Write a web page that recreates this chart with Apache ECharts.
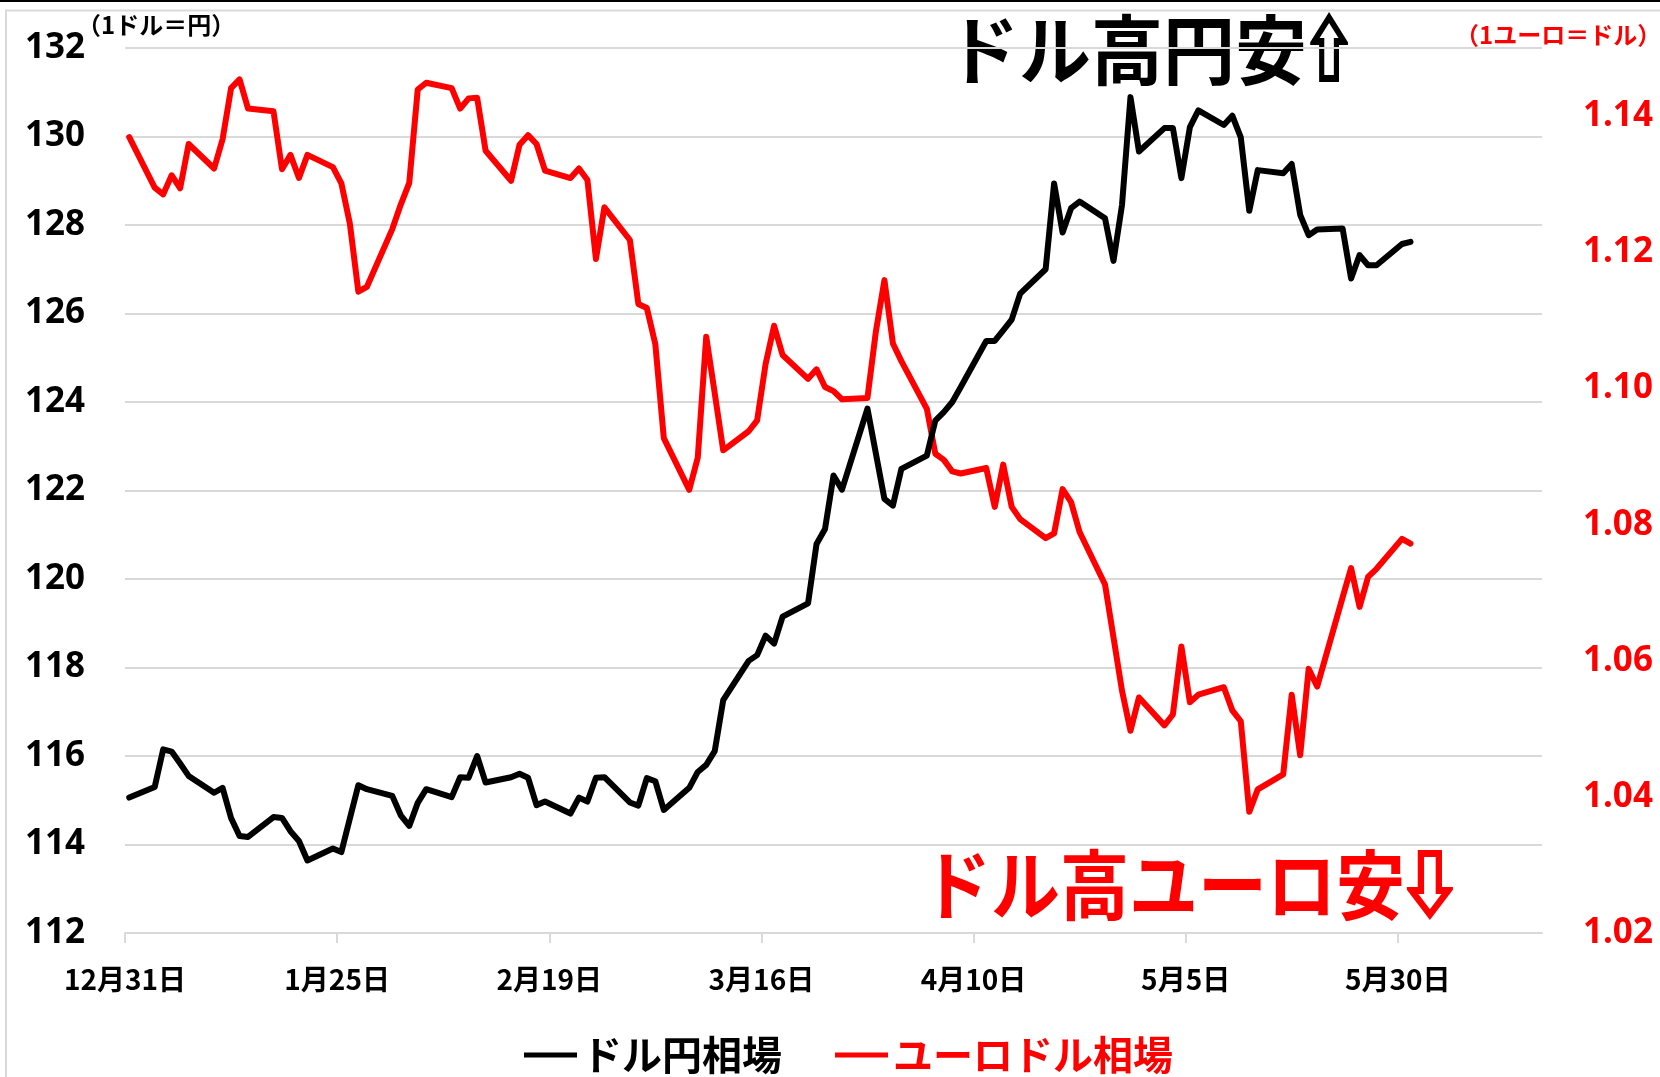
<!DOCTYPE html>
<html>
<head>
<meta charset="utf-8">
<title>ドル円・ユーロドル相場</title>
<script src="https://cdn.jsdelivr.net/npm/echarts@6/dist/echarts.min.js"></script>
<style>
  html, body { margin: 0; padding: 0; background: #fff; }
  #chart_box { width: 1660px; height: 1077px; }
</style>
</head>
<body>
<div id="chart_box"></div>
<script>
// 日付（12/31は2021年、それ以外は2022年）
var dates = [
  "12/31",
  "1/3", "1/4", "1/5", "1/6", "1/7", "1/10", "1/11", "1/12", "1/13", "1/14",
  "1/17", "1/18", "1/19", "1/20", "1/21", "1/24", "1/25", "1/26", "1/27", "1/28",
  "1/31", "2/1", "2/2", "2/3", "2/4", "2/7", "2/8", "2/9", "2/10", "2/11",
  "2/14", "2/15", "2/16", "2/17", "2/18", "2/21", "2/22", "2/23", "2/24", "2/25",
  "2/28", "3/1", "3/2", "3/3", "3/4", "3/7", "3/8", "3/9", "3/10", "3/11",
  "3/14", "3/15", "3/16", "3/17", "3/18", "3/21", "3/22", "3/23", "3/24", "3/25",
  "3/28", "3/29", "3/30", "3/31", "4/1", "4/4", "4/5", "4/6", "4/7", "4/8",
  "4/11", "4/12", "4/13", "4/14", "4/15", "4/18", "4/19", "4/20", "4/21", "4/22",
  "4/25", "4/26", "4/27", "4/28", "4/29", "5/2", "5/3", "5/4", "5/5", "5/6",
  "5/9", "5/10", "5/11", "5/12", "5/13", "5/16", "5/17", "5/18", "5/19", "5/20",
  "5/23", "5/24", "5/25", "5/26", "5/27", "5/30", "5/31"
];

// ドル円相場（1ドル＝円）
var usdJpy = [
  115.06,
  115.30, 116.15, 116.10, 115.83, 115.55, 115.17, 115.28, 114.60, 114.19, 114.17,
  114.62, 114.60, 114.30, 114.08, 113.64, 113.91, 113.83, 114.59, 115.34, 115.25,
  115.10, 114.66, 114.42, 114.94, 115.25, 115.07, 115.52, 115.51, 116.00, 115.40,
  115.52, 115.60, 115.51, 114.89, 114.97, 114.70, 115.06, 114.97, 115.51, 115.52,
  114.95, 114.88, 115.50, 115.43, 114.78, 115.28, 115.64, 115.80, 116.11, 117.26,
  118.15, 118.28, 118.72, 118.54, 119.15, 119.45, 120.79, 121.13, 122.34, 122.02,
  123.85, 122.83, 121.81, 121.66, 122.49, 122.79, 123.58, 123.77, 124.00, 124.34,
  125.38, 125.38, 125.62, 125.86, 126.45, 127.00, 128.94, 127.83, 128.38, 128.53,
  128.15, 127.19, 128.45, 130.89, 129.66, 130.19, 130.19, 129.06, 130.21, 130.59,
  130.26, 130.47, 129.98, 128.32, 129.24, 129.17, 129.38, 128.23, 127.77, 127.90,
  127.92, 126.79, 127.32, 127.09, 127.09, 127.57, 127.62
];

// ユーロドル相場（1ユーロ＝ドル）
var eurUsd = [
  1.1369,
  1.1295, 1.1285, 1.1313, 1.1294, 1.1359, 1.1323, 1.1366, 1.1441, 1.1454, 1.1411,
  1.1407, 1.1322, 1.1343, 1.1309, 1.1343, 1.1325, 1.1301, 1.1242, 1.1142, 1.1149,
  1.1234, 1.1270, 1.1302, 1.1439, 1.1449, 1.1441, 1.1411, 1.1426, 1.1427, 1.1349,
  1.1305, 1.1358, 1.1372, 1.1359, 1.1320, 1.1309, 1.1323, 1.1306, 1.1190, 1.1266,
  1.1218, 1.1124, 1.1118, 1.1065, 1.0927, 1.0851, 1.0898, 1.1076, 1.0993, 1.0909,
  1.0937, 1.0953, 1.1036, 1.1092, 1.1049, 1.1014, 1.1028, 1.1002, 1.0996, 1.0984,
  1.0986, 1.1084, 1.1159, 1.1066, 1.1040, 1.0970, 1.0904, 1.0895, 1.0878, 1.0875,
  1.0883, 1.0826, 1.0888, 1.0826, 1.0808, 1.0780, 1.0787, 1.0852, 1.0833, 1.0789,
  1.0712, 1.0634, 1.0556, 1.0497, 1.0546, 1.0505, 1.0521, 1.0621, 1.0539, 1.0550,
  1.0561, 1.0527, 1.0511, 1.0378, 1.0411, 1.0433, 1.0550, 1.0461, 1.0588, 1.0562,
  1.0693, 1.0736, 1.0679, 1.0723, 1.0735, 1.0779, 1.0772
];

// 目盛り
var xTickDays = [0, 25, 50, 75, 100, 125, 150];
var xTickLabels = ["12月31日", "1月25日", "2月19日", "3月16日", "4月10日", "5月5日", "5月30日"];
var rightTicks = [1.02, 1.04, 1.06, 1.08, 1.10, 1.12, 1.14];

var baseDay = Date.UTC(2021, 11, 31);
// 12/31からの経過日数（点は日の中央に置く）
function toDay(s) {
  var p = s.split("/");
  var m = +p[0], d = +p[1];
  var y = m === 12 ? 2021 : 2022;
  return (Date.UTC(y, m - 1, d) - baseDay) / 86400000 + 0.5;
}

var jpyData = dates.map(function (s, i) { return [toDay(s), usdJpy[i]]; });
var eurData = dates.map(function (s, i) { return [toDay(s), eurUsd[i]]; });

var jpFont = '"Noto Sans CJK JP", "Noto Sans", sans-serif';
var numFont = '"Noto Sans", "Liberation Sans", sans-serif';

var mycharts = echarts.init(document.getElementById("chart_box"));

var option = {
  animation: false,
  backgroundColor: "#fff",
  grid: { left: 125, right: 118, top: 48, bottom: 144 },
  legend: {
    left: 519,
    top: 1030,
    icon: "rect",
    itemWidth: 53,
    itemHeight: 5,
    itemGap: 53,
    textStyle: { fontSize: 40, fontWeight: "bold", fontFamily: jpFont, color: "#000" },
    data: [
      { name: "ドル円相場", textStyle: { color: "#000" } },
      { name: "ユーロドル相場", textStyle: { color: "#FF0000" } }
    ]
  },
  xAxis: {
    type: "value",
    min: 0,
    max: 167,
    interval: 25,
    axisLine: { show: true, lineStyle: { color: "#D9D9D9", width: 2 } },
    axisTick: { show: true, length: 10, lineStyle: { color: "#D9D9D9", width: 2 }, customValues: xTickDays },
    splitLine: { show: false },
    axisLabel: {
      customValues: xTickDays,
      margin: 32,
      fontSize: 28,
      fontWeight: "bold",
      fontFamily: jpFont,
      color: "#000",
      formatter: function (v) {
        var i = xTickDays.indexOf(Math.round(v));
        return i >= 0 ? xTickLabels[i] : "";
      }
    }
  },
  yAxis: [
    {
      type: "value",
      min: 112,
      max: 132,
      interval: 2,
      axisLine: { show: false },
      axisTick: { show: false },
      splitLine: { lineStyle: { color: "#D9D9D9", width: 2 } },
      axisLabel: { margin: 40, fontSize: 35, fontWeight: "bold", fontFamily: numFont, color: "#000" }
    },
    {
      type: "value",
      min: 1.02,
      max: 1.15,
      interval: 0.02,
      position: "right",
      axisLine: { show: false },
      axisTick: { show: false },
      splitLine: { show: false },
      axisLabel: {
        customValues: rightTicks,
        margin: 41,
        fontSize: 35,
        fontWeight: "bold",
        fontFamily: numFont,
        color: "#FF0000",
        formatter: function (v) { return v.toFixed(2); }
      }
    }
  ],
  series: [
    {
      name: "ドル円相場",
      type: "line",
      data: jpyData,
      showSymbol: false,
      color: "#000",
      lineStyle: { color: "#000", width: 6, cap: "round", join: "round" },
      z: 3
    },
    {
      name: "ユーロドル相場",
      type: "line",
      yAxisIndex: 1,
      data: eurData,
      showSymbol: false,
      color: "#FF0000",
      lineStyle: { color: "#FF0000", width: 6, cap: "round", join: "round" },
      z: 2
    }
  ],
  graphic: [
    { type: "line", shape: { x1: 0, y1: 1, x2: 1660, y2: 1 }, style: { stroke: "#000", lineWidth: 2 } },
    { type: "rect", shape: { x: 6, y: 10.5, width: 1700, height: 1100 }, style: { fill: "none", stroke: "#D9D9D9", lineWidth: 2 } },
    {
      type: "text", left: 77, top: 13,
      style: { text: "（1ドル＝円）", font: "bold 24px " + jpFont, fill: "#000" }
    },
    {
      type: "text", left: 1455, top: 23,
      style: { text: "（1ユーロ＝ドル）", font: "bold 24px " + jpFont, fill: "#FF0000" }
    },
    {
      type: "text", x: 947, y: 50, scaleY: 1.05,
      style: { text: "ドル高円安", x: 0, y: 0, textVerticalAlign: "middle", font: "bold 72px " + jpFont, fill: "#000" }
    },
    {
      type: "text", x: 1329, y: 48, scaleX: 0.73,
      style: {
        text: "⇧", x: 0, y: 0, textAlign: "center", textVerticalAlign: "middle",
        font: "bold 70px " + jpFont, fill: "#000", stroke: "#000", lineWidth: 4
      }
    },
    {
      type: "text", x: 922, y: 885, scaleY: 1.1,
      style: { text: "ドル高ユーロ安", x: 0, y: 0, textVerticalAlign: "middle", font: "bold 69px " + jpFont, fill: "#FF0000" }
    },
    {
      type: "text", x: 1430, y: 884, scaleX: 0.89,
      style: {
        text: "⇩", x: 0, y: 0, textAlign: "center", textVerticalAlign: "middle",
        font: "bold 70px " + jpFont, fill: "#FF0000", stroke: "#FF0000", lineWidth: 4
      }
    }
  ]
};

mycharts.setOption(option);
</script>
</body>
</html>
